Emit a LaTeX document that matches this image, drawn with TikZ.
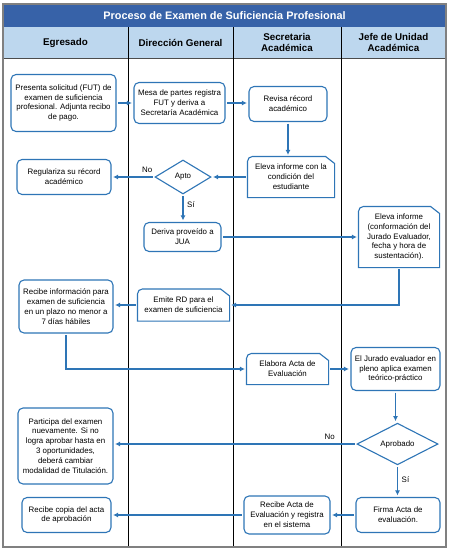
\documentclass[tikz,border=0pt]{standalone}
\usepackage{fontspec}
\setmainfont{Liberation Sans}
\usetikzlibrary{arrows.meta}
\usetikzlibrary{shapes.geometric}
\definecolor{flowblue}{HTML}{2E75B6}
\definecolor{titleblue}{HTML}{3762A8}
\definecolor{headblue}{HTML}{BDD7EE}
\tikzset{
  proc/.style={draw=flowblue, line width=1.1pt, rounded corners=5pt, fill=white,
    align=center, inner sep=1pt, font=\fontsize{7.9}{9.9}\selectfont},
  card/.style={proc, draw=none},
  decision/.style={diamond, draw=flowblue, line width=1.1pt, fill=white, inner sep=0pt,
    font=\fontsize{7.9}{9.5}\selectfont},
  wh/.style 2 args={minimum width=#1pt, minimum height=#2pt},
  flow/.style={draw=flowblue, line width=1.8pt, -{Latex[length=5pt,width=5pt]}, shorten >=1.5pt, shorten <=1.5pt},
  lbl/.style={font=\fontsize{7.9}{9.5}\selectfont},
  headtext/.style={font=\bfseries\fontsize{9.8}{11.2}\selectfont, align=center}
}

\begin{document}
\begin{tikzpicture}[x=1pt, y=-1pt]
  \useasboundingbox (0,0) rectangle (450,550);

  % cabecera
  \fill[titleblue] (3,4) rectangle (446,27);
  \fill[headblue] (3,27) rectangle (446,58);
  \draw[black!70, line width=0.5pt] (3,58) -- (446,58);
  \node[text=white, font=\bfseries\fontsize{10.9}{12}\selectfont] (title) at (224.5,15.5) {Proceso de Examen de Suficiencia Profesional};
  \node[headtext] (hEgr) at (65.5,42.5) {Egresado};
  \node[headtext] (hDir) at (180.5,42.5) {Dirección General};
  \node[headtext] (hSec) at (287,42.5) {Secretaria\\Académica};
  \node[headtext] (hJef) at (393.5,42.5) {Jefe de Unidad\\Académica};

  % carriles
  \foreach \x in {128,233,341}
    \draw[line width=0.7pt] (\x,27) -- (\x,547);
  \draw[gray, line width=1.5pt] (3,4) rectangle (446,547);

  % fila 1
  \node[proc, wh={105}{57}] (solicitud) at (63.5,103) {Presenta solicitud (FUT) de\\examen de suficiencia\\profesional. Adjunta recibo\\de pago.};
  \node[proc, wh={91}{41}] (mesa) at (179.5,103) {Mesa de partes registra\\FUT y deriva a\\Secretaría Académica};
  \node[proc, wh={78}{35}] (revisa) at (288,104) {Revisa récord\\académico};

  % fila 2
  \node[proc, wh={94}{35}] (regulariza) at (64,177) {Regulariza su récord\\académico};
  \node[decision, minimum width=56pt, minimum height=34pt] (apto) at (183,177) {Apto};
  \node[card, wh={86}{40}] (condicion) at (291,177) {Eleva informe con la\\condición del\\estudiante};

  % fila 3
  \node[proc, wh={77}{29}] (deriva) at (182.5,237) {Deriva proveído a\\JUA};
  \node[card, wh={80}{60}] (informe) at (399,237) {Eleva informe\\(conformación del\\Jurado Evaluador,\\fecha y hora de\\sustentación).};

  % fila 4
  \node[proc, wh={94}{53}] (recibeInfo) at (66,306.5) {Recibe información para\\examen de suficiencia\\en un plazo no menor a\\7 días hábiles};
  \node[card, wh={91}{31}] (emite) at (183.5,305) {Emite RD para el\\examen de suficiencia};

  % fila 5
  \node[card, wh={81}{30}] (elabora) at (287.5,369) {Elabora Acta de\\Evaluación};
  \node[proc, wh={89}{43}] (jurado) at (395.5,369) {El Jurado evaluador en\\pleno aplica examen\\teórico-práctico};

  % fila 6
  \node[proc, wh={95}{76}] (participa) at (65.5,446) {Participa del examen\\nuevamente. Si no\\logra aprobar hasta en\\3 oportunidades,\\deberá cambiar\\modalidad de Titulación.};
  \node[decision, minimum width=81pt, minimum height=33pt] (aprobado) at (397.5,444) {Aprobado};

  % fila 7
  \node[proc, wh={89}{35}] (copia) at (66.5,515) {Recibe copia del acta\\de aprobación};
  \node[proc, wh={86}{38}] (recibeActa) at (287,515) {Recibe Acta de\\Evaluación y registra\\en el sistema};
  \node[proc, wh={84}{35}] (firma) at (398,515) {Firma Acta de\\evaluación.};

  % bordes de documento
  \foreach \n in {condicion,informe,emite,elabora}
    \draw[flowblue, line width=1.1pt] (\n.south east) -- ([yshift=-7pt]\n.north east) -- ([xshift=-9pt]\n.north east)
      -- ([xshift=5pt]\n.north west) arc[start angle=90, end angle=180, radius=5pt] -- (\n.south west) -- cycle;

  % flechas
  \draw[flow] (solicitud.east) -- (solicitud.east -| mesa.west);
  \draw[flow] (mesa.east) -- (mesa.east -| revisa.west);
  \draw[flow] (revisa.south) -- (revisa.south |- condicion.north);
  \draw[flow] (condicion.west) -- (apto.east);
  \draw[flow] (apto.west) -- (regulariza.east) node[lbl, above, pos=0.17] {No};
  \draw[flow] (apto.south) -- (apto.south |- deriva.north) node[lbl, right, pos=0.35] {Sí};
  \draw[flow] (deriva.east) -- (informe.west);
  \draw[flow] (informe.south) |- (emite.east);
  \draw[flow] (emite.west) -- (emite.west -| recibeInfo.east);
  \draw[flow] (recibeInfo.south) |- (elabora.west);
  \draw[flow] (elabora.east) -- (jurado.west);
  \draw[flow] (jurado.south) -- (jurado.south |- aprobado.north);
  \draw[flow] (aprobado.west) -- (aprobado.west -| participa.east) node[lbl, above, pos=0.11] {No};
  \draw[flow] (aprobado.south) -- (aprobado.south |- firma.north) node[lbl, right, pos=0.45] {Sí};
  \draw[flow] (firma.west) -- (recibeActa.east);
  \draw[flow] (recibeActa.west) -- (copia.east);
\end{tikzpicture}
\end{document}
